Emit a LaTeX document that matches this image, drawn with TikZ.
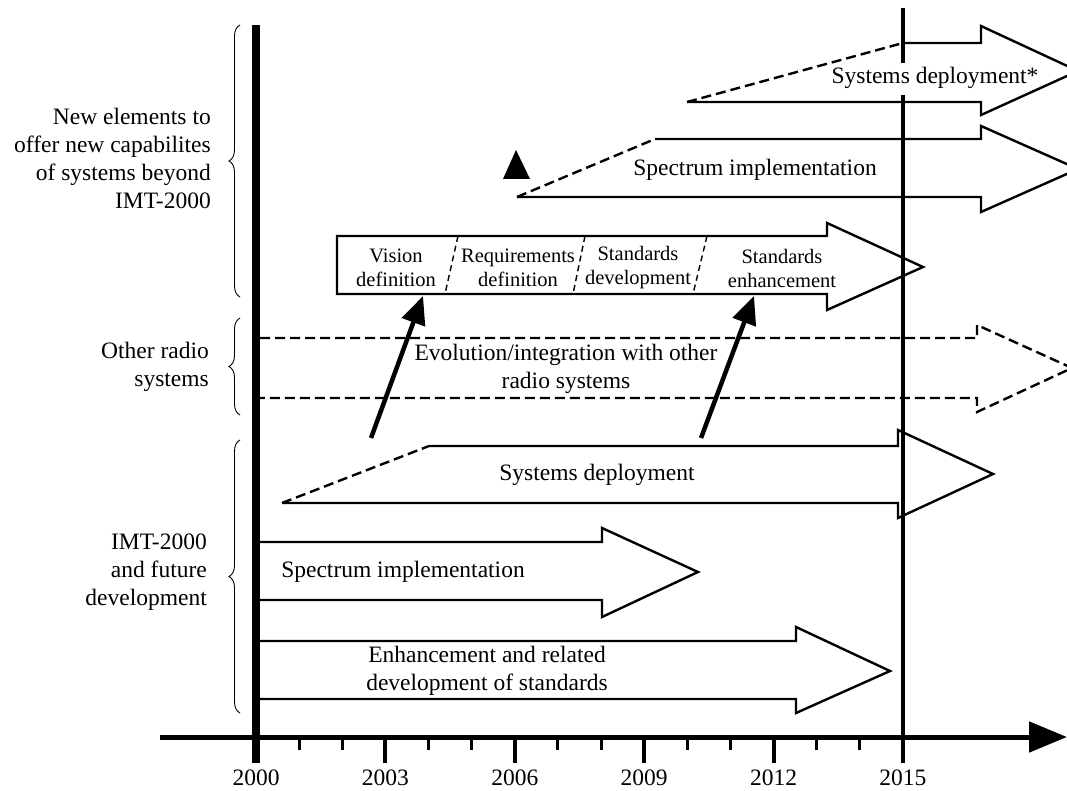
\documentclass[tikz,border=0pt]{standalone}
\usepackage{fontspec}
\setmainfont{Liberation Serif}
\usepackage{tikz}
\usetikzlibrary{arrows.meta,decorations.pathreplacing}

\begin{document}
\begin{tikzpicture}[x=1pt,y=-1pt,
    txt/.style={font=\fontsize{23.5}{28}\selectfont,align=center,inner sep=0pt},
    boxtxt/.style={font=\fontsize{20.5}{24}\selectfont,align=center,inner sep=0pt},
    outline/.style={line width=2.4pt,line join=miter},
    dashline/.style={line width=2.4pt,dash pattern=on 10pt off 5pt},
    sepline/.style={line width=1.4pt,dash pattern=on 6pt off 4pt},
    grp/.style={decorate,decoration={brace,amplitude=11pt},line width=0.9pt},
    link/.style={line width=4.5pt,-{Triangle[length=28pt,width=24pt]}}]
\useasboundingbox (0,0) rectangle (1067,791);
                % groups on the left
                \draw[grp] (240,297) -- (240,25);
                \draw[grp] (240,415) -- (240,318);
                \draw[grp] (240,713) -- (240,440);
                \node[txt,anchor=east,align=right] (grp-new) at (211,158) {New elements to\\offer new capabilites\\of systems beyond\\IMT-2000};
                \node[txt,anchor=east,align=right] (grp-radio) at (209,367) {Other radio\\systems};
                \node[txt,anchor=east,align=right] (grp-imt) at (207,572) {IMT-2000\\and future\\development};
                % beyond IMT-2000
                \draw[dashline] (687,102) -- (903,43);
                \draw[outline] (903,43) -- (981,43) -- (981,26) -- (1078,71) -- (981,115) -- (981,102) -- (687,102);
                \node[txt] (sd-star) at (935,78) {Systems deployment*};
                \draw[dashline] (517,197) -- (655,139);
                \draw[outline] (655,139) -- (981,139) -- (981,126) -- (1078,169) -- (981,212) -- (981,197) -- (517,197);
                \node[txt] (spec-new) at (755,170) {Spectrum implementation};
                \fill (516,150) -- (503,179) -- (530,179) -- cycle;
                \draw[outline] (337,236) -- (827,236) -- (827,223) -- (923,267) -- (827,310) -- (827,294) -- (337,294) -- cycle;
                \draw[sepline] (458,236) -- (445,294);
                \draw[sepline] (585,236) -- (573,294);
                \draw[sepline] (707,236) -- (693,294);
                \node[boxtxt] (vision) at (396,268) {Vision\\definition};
                \node[boxtxt] (req) at (518,268) {Requirements\\definition};
                \node[boxtxt] (std-dev) at (638,268) {Standards\\development};
                \node[boxtxt] (std-enh) at (782,268) {Standards\\enhancement};
                % other radio systems
                \draw[dashline] (260,338) -- (977,338) -- (977,325) -- (1072,368) -- (977,412) -- (977,398) -- (260,398);
                \node[txt] (evo) at (566,369) {Evolution/integration with other\\radio systems};
                % IMT-2000
                \draw[dashline] (282,503) -- (429,446);
                \draw[outline] (429,446) -- (898,446) -- (898,430) -- (993,474) -- (898,518) -- (898,503) -- (282,503);
                \node[txt] (sd) at (597,475) {Systems deployment};
                \draw[outline] (260,542) -- (602,542) -- (602,528) -- (698,572) -- (602,617) -- (602,600) -- (260,600);
                \node[txt] (spec) at (403,572) {Spectrum implementation};
                \draw[outline] (260,641) -- (796,641) -- (796,627) -- (890,671) -- (796,713) -- (796,699) -- (260,699);
                \node[txt] (enh) at (487,671) {Enhancement and related\\development of standards};
                % links
                \coordinate (sd-a) at (371,438);
                \coordinate (sd-b) at (701,438);
                \coordinate (vis-in) at (423,296);
                \coordinate (enh-in) at (754,296);
                \draw[link] (sd-a) -- (vis-in);
                \draw[link] (sd-b) -- (enh-in);
                % time axis
                \draw[line width=8pt] (256,25) -- (256,763);
                \draw[line width=4.5pt] (903,8) -- (903,63);
                \draw[line width=4.5pt] (903,95) -- (903,763);
                \draw[line width=5pt,-{Triangle[length=38pt,width=30pt]}] (160,737) -- (1067,737);
                \foreach \k in {1,2,4,5,7,8,10,11,13,14}
                    \draw[line width=3pt] (256+43.13*\k,737) -- (256+43.13*\k,750);
                \foreach \k in {3,6,9,12}
                    \draw[line width=4pt] (256+43.13*\k,737) -- (256+43.13*\k,763);
                \foreach \k/\yr in {0/2000,3/2003,6/2006,9/2009,12/2012,15/2015}
                    \node[txt] (y\yr) at (256+43.13*\k,778) {\yr};
\end{tikzpicture}
\end{document}
